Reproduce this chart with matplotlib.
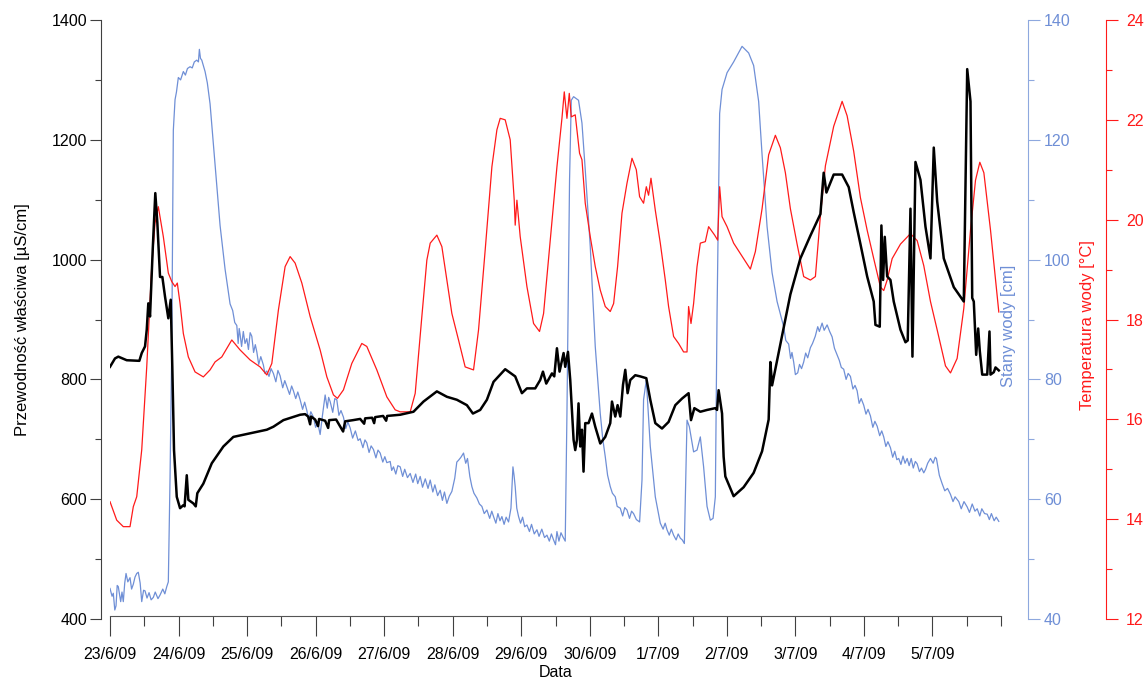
import matplotlib
matplotlib.use('Agg')
import matplotlib.pyplot as plt
from matplotlib.ticker import MultipleLocator

plt.rcParams['font.family'] = ['Liberation Sans', 'DejaVu Sans']

# czas w dniach od 23/6/09 00:00
tick_labels = ['23/6/09', '24/6/09', '25/6/09', '26/6/09', '27/6/09', '28/6/09', '29/6/09',
               '30/6/09', '1/7/09', '2/7/09', '3/7/09', '4/7/09', '5/7/09']

# przewodnosc wlasciwa [uS/cm]
t_ec = [0.000, 0.073, 0.121, 0.244, 0.428, 0.463, 0.511, 0.536, 0.559, 0.584, 0.623, 0.661, 0.691,
        0.730, 0.764, 0.803, 0.851, 0.886, 0.909, 0.934, 0.974, 1.022, 1.070, 1.088, 1.120, 1.143,
        1.216, 1.251, 1.274, 1.362, 1.485, 1.654, 1.800, 2.044, 2.288, 2.384, 2.530, 2.774, 2.847,
        2.891, 2.920, 2.934, 2.993, 3.036, 3.051, 3.139, 3.183, 3.197, 3.299, 3.401, 3.431, 3.547,
        3.650, 3.708, 3.723, 3.825, 3.854, 3.869, 3.985, 4.029, 4.044, 4.234, 4.428, 4.574, 4.769,
        4.915, 5.061, 5.207, 5.295, 5.401, 5.499, 5.596, 5.766, 5.912, 6.010, 6.083, 6.204, 6.277,
        6.317, 6.365, 6.448, 6.482, 6.521, 6.559, 6.618, 6.642, 6.682, 6.715, 6.764, 6.788, 6.813,
        6.836, 6.861, 6.886, 6.909, 6.934, 6.982, 7.032, 7.080, 7.153, 7.226, 7.299, 7.324, 7.372,
        7.406, 7.445, 7.485, 7.518, 7.552, 7.591, 7.664, 7.737, 7.825, 7.883, 7.956, 8.054, 8.150,
        8.248, 8.346, 8.442, 8.477, 8.526, 8.613, 8.711, 8.832, 8.857, 8.880, 8.930, 8.953, 8.978,
        9.099, 9.245, 9.391, 9.514, 9.610, 9.635, 9.660, 9.781, 9.927, 10.073, 10.219, 10.365,
        10.413, 10.453, 10.559, 10.682, 10.778, 10.851, 10.949, 11.047, 11.143, 11.168, 11.231,
        11.255, 11.280, 11.304, 11.339, 11.387, 11.435, 11.533, 11.606, 11.639, 11.679, 11.708,
        11.752, 11.825, 11.898, 11.971, 12.019, 12.069, 12.165, 12.311, 12.457, 12.507, 12.555,
        12.580, 12.603, 12.638, 12.667, 12.691, 12.726, 12.799, 12.832, 12.847, 12.895, 12.920,
        12.968]
ec = [821, 835, 838, 832, 831, 844, 855, 883, 927, 905, 1016, 1111, 1061,
      971, 971, 938, 902, 933, 821, 682, 604, 585, 590, 588, 640, 599,
      593, 588, 610, 626, 660, 688, 704, 710, 716, 721, 732, 741, 742,
      738, 725, 738, 733, 722, 734, 731, 719, 732, 733, 713, 730, 732,
      734, 726, 735, 736, 727, 737, 739, 731, 739, 741, 746, 763, 780,
      771, 766, 757, 743, 749, 766, 796, 817, 805, 777, 785, 785, 799,
      813, 793, 810, 805, 852, 813, 844, 821, 846, 799, 699, 682, 699,
      760, 688, 716, 646, 727, 727, 743, 721, 693, 704, 727, 763, 738,
      757, 738, 791, 816, 777, 799, 807, 805, 802, 766, 727, 718, 729,
      757, 768, 777, 732, 752, 746, 749, 752, 749, 782, 743, 671, 638,
      605, 620, 644, 680, 733, 829, 790, 859, 942, 1002, 1040, 1076,
      1145, 1112, 1142, 1142, 1121, 1079, 1026, 972, 930, 891, 888,
      1057, 966, 1038, 972, 966, 930, 883, 862, 865, 1085, 838,
      1163, 1133, 1055, 1002, 1187, 1097, 1002, 954, 930, 1318, 1264,
      936, 930, 841, 885, 847, 808, 808, 880, 808, 812, 820,
      815]

# stany wody [cm]
t_h = [0.000, 0.030, 0.048, 0.070, 0.088, 0.105, 0.121, 0.140, 0.156, 0.175, 0.194, 0.215, 0.234,
       0.260, 0.292, 0.315, 0.340, 0.365, 0.390, 0.413, 0.440, 0.463, 0.490, 0.511, 0.540, 0.570,
       0.600, 0.632, 0.660, 0.700, 0.730, 0.770, 0.800, 0.828, 0.851, 0.876, 0.901, 0.924, 0.949,
       0.970, 0.997, 1.030, 1.070, 1.100, 1.130, 1.168, 1.200, 1.230, 1.266, 1.290, 1.304, 1.320,
       1.339, 1.387, 1.420, 1.460, 1.533, 1.606, 1.679, 1.752, 1.790, 1.820, 1.850, 1.870, 1.885,
       1.898, 1.920, 1.945, 1.970, 1.996, 2.020, 2.045, 2.069, 2.095, 2.120, 2.142, 2.170, 2.200,
       2.238, 2.260, 2.288, 2.320, 2.350, 2.384, 2.420, 2.450, 2.482, 2.520, 2.550, 2.580, 2.620,
       2.650, 2.676, 2.710, 2.740, 2.774, 2.810, 2.840, 2.872, 2.900, 2.930, 2.968, 3.000, 3.030,
       3.066, 3.100, 3.139, 3.170, 3.190, 3.212, 3.250, 3.280, 3.309, 3.340, 3.370, 3.406, 3.440,
       3.470, 3.504, 3.540, 3.580, 3.620, 3.650, 3.690, 3.720, 3.747, 3.780, 3.810, 3.844, 3.880,
       3.910, 3.942, 3.980, 4.010, 4.039, 4.088, 4.110, 4.136, 4.170, 4.200, 4.234, 4.270, 4.300,
       4.340, 4.380, 4.420, 4.460, 4.490, 4.526, 4.560, 4.600, 4.640, 4.672, 4.710, 4.740, 4.780,
       4.818, 4.850, 4.880, 4.915, 4.950, 4.988, 5.030, 5.060, 5.085, 5.120, 5.158, 5.190, 5.216,
       5.250, 5.280, 5.310, 5.353, 5.390, 5.426, 5.460, 5.499, 5.540, 5.570, 5.596, 5.630, 5.660,
       5.690, 5.718, 5.750, 5.780, 5.815, 5.850, 5.879, 5.895, 5.912, 5.935, 5.961, 5.990, 6.020,
       6.050, 6.083, 6.120, 6.150, 6.190, 6.229, 6.260, 6.300, 6.340, 6.375, 6.410, 6.440, 6.472,
       6.500, 6.521, 6.550, 6.580, 6.609, 6.642, 6.667, 6.705, 6.730, 6.764, 6.836, 6.886, 6.934,
       7.007, 7.080, 7.153, 7.190, 7.226, 7.260, 7.299, 7.330, 7.372, 7.400, 7.445, 7.480, 7.510,
       7.543, 7.580, 7.610, 7.639, 7.680, 7.727, 7.762, 7.785, 7.825, 7.883, 7.956, 8.029, 8.070,
       8.100, 8.127, 8.160, 8.190, 8.223, 8.260, 8.290, 8.321, 8.350, 8.380, 8.419, 8.453, 8.515,
       8.565, 8.613, 8.661, 8.711, 8.759, 8.799, 8.832, 8.857, 8.895, 8.930, 9.003, 9.099, 9.222,
       9.318, 9.391, 9.464, 9.514, 9.587, 9.660, 9.733, 9.829, 9.860, 9.902, 9.930, 9.950, 9.975,
       10.000, 10.034, 10.060, 10.090, 10.121, 10.150, 10.180, 10.219, 10.250, 10.290, 10.326,
       10.350, 10.390, 10.420, 10.463, 10.500, 10.536, 10.570, 10.609, 10.640, 10.670, 10.705,
       10.740, 10.770, 10.803, 10.840, 10.870, 10.901, 10.930, 10.960, 10.997, 11.030, 11.060,
       11.095, 11.130, 11.160, 11.193, 11.230, 11.260, 11.289, 11.320, 11.350, 11.387, 11.420,
       11.450, 11.480, 11.508, 11.540, 11.570, 11.600, 11.631, 11.660, 11.690, 11.720, 11.750,
       11.777, 11.810, 11.840, 11.873, 11.900, 11.930, 11.971, 12.010, 12.040, 12.058, 12.100,
       12.141, 12.180, 12.220, 12.263, 12.300, 12.330, 12.384, 12.420, 12.460, 12.507, 12.540,
       12.580, 12.620, 12.653, 12.690, 12.720, 12.760, 12.799, 12.830, 12.860, 12.900, 12.930,
       12.968]
h = [45.1, 43.8, 44.3, 41.5, 42.2, 45.6, 45.4, 44.0, 42.9, 44.5, 42.9, 46.0, 47.6,
     46.2, 46.9, 45.0, 45.8, 47.0, 47.6, 47.8, 46.0, 42.9, 44.8, 44.7, 43.5, 44.4,
     43.2, 43.6, 44.5, 43.4, 44.0, 45.0, 44.2, 45.4, 46.2, 63.6, 85.4, 121.6, 126.7,
     128.0, 130.4, 130.0, 131.4, 130.8, 131.9, 132.2, 132.0, 133.0, 133.3, 133.0, 135.1, 133.6,
     133.3, 131.4, 129.5, 126.0, 115.8, 105.7, 98.4, 92.6, 91.5, 89.5, 89.0, 86.0, 88.5,
     87.5, 85.5, 88.0, 86.0, 86.8, 85.0, 87.8, 87.2, 84.5, 85.8, 84.6, 82.5, 83.8,
     82.4, 81.0, 81.4, 80.5, 81.8, 81.0, 79.6, 81.5, 80.6, 78.6, 79.8, 78.8, 77.5,
     78.9, 78.1, 76.8, 77.9, 76.6, 75.0, 76.2, 74.8, 73.2, 74.6, 73.7, 72.0, 72.8,
     70.8, 74.0, 77.4, 75.2, 77.0, 76.3, 74.5, 76.8, 76.6, 74.0, 74.8, 73.7, 71.8,
     72.9, 71.9, 70.2, 71.4, 69.8, 70.1, 68.6, 69.9, 69.4, 67.8, 68.9, 68.3, 66.9,
     68.2, 67.7, 66.2, 67.1, 66.1, 66.3, 64.8, 65.4, 64.2, 65.6, 65.4, 63.8, 65.0,
     63.6, 64.3, 62.8, 64.2, 62.6, 63.8, 62.0, 63.4, 61.8, 63.2, 61.2, 62.4, 60.6,
     61.5, 59.8, 61.2, 59.3, 60.5, 61.3, 63.5, 66.2, 66.5, 67.0, 67.7, 66.0, 66.8,
     63.8, 62.1, 61.0, 60.2, 59.2, 58.8, 57.6, 58.2, 56.8, 58.0, 57.1, 56.0, 57.6,
     56.4, 57.1, 55.8, 57.0, 56.2, 58.5, 65.4, 64.0, 62.1, 58.5, 57.1, 56.0, 57.0,
     55.4, 55.7, 54.6, 55.8, 54.2, 54.9, 53.8, 55.0, 53.6, 54.0, 53.0, 54.2, 53.2,
     52.4, 54.6, 53.0, 54.4, 53.7, 53.0, 74.3, 113.3, 126.6, 127.2, 126.6, 122.8, 115.0,
     102.2, 85.5, 74.3, 70.0, 67.1, 64.0, 62.1, 61.0, 60.4, 58.8, 58.5, 57.2, 58.6,
     58.2, 56.8, 58.0, 57.6, 56.6, 56.2, 63.2, 76.6, 79.9, 68.8, 60.4, 56.0, 55.0,
     56.0, 54.9, 54.0, 55.0, 54.0, 53.2, 54.2, 53.5, 53.2, 52.6, 73.2, 72.1, 67.9,
     68.2, 70.4, 65.4, 58.8, 56.5, 56.8, 60.4, 91.0, 124.4, 128.4, 131.2, 133.0, 135.6,
     134.5, 132.4, 126.4, 117.5, 105.5, 97.8, 93.0, 88.8, 86.5, 85.9, 83.5, 84.5, 82.9,
     80.8, 81.1, 82.5, 81.8, 82.9, 84.4, 83.6, 85.3, 86.0, 87.2, 88.8,
     88.0, 89.4, 88.2, 89.1, 88.0, 87.1, 85.2, 84.1, 83.2, 82.0, 81.7,
     80.0, 81.0, 80.5, 78.4, 79.0, 78.1, 76.0, 76.8, 75.7, 74.2, 75.0,
     73.9, 72.0, 73.0, 72.2, 70.6, 71.4, 70.4, 68.8, 69.6, 68.6, 67.0,
     68.0, 66.6, 66.8, 65.8, 67.2, 66.0, 66.8, 65.6, 66.8, 65.2, 66.3,
     65.9, 64.6, 65.2, 64.4, 65.0, 66.0, 66.8, 66.0, 67.0, 66.8, 64.0,
     62.6, 61.4, 61.8, 60.8, 59.6, 60.4, 59.6, 58.4, 59.6, 58.7, 57.8,
     59.2, 58.0, 58.4, 57.2, 58.4, 57.6, 57.5, 56.6, 57.6, 56.4, 57.0,
     56.3]

# temperatura wody [C]
t_temp = [0.000, 0.098, 0.194, 0.292, 0.340, 0.390, 0.463, 0.536, 0.609, 0.657, 0.705, 0.778, 0.851,
          0.901, 0.949, 0.982, 1.022, 1.070, 1.143, 1.241, 1.362, 1.460, 1.533, 1.631, 1.777, 1.898,
          2.044, 2.190, 2.288, 2.361, 2.457, 2.555, 2.628, 2.701, 2.799, 2.920, 3.066, 3.164, 3.260,
          3.318, 3.406, 3.528, 3.674, 3.747, 3.893, 4.039, 4.161, 4.234, 4.380, 4.453, 4.550, 4.623,
          4.672, 4.769, 4.842, 4.915, 4.988, 5.085, 5.182, 5.304, 5.377, 5.474, 5.572, 5.645, 5.693,
          5.766, 5.839, 5.898, 5.912, 5.937, 5.985, 6.083, 6.180, 6.267, 6.326, 6.423, 6.521, 6.594,
          6.628, 6.667, 6.701, 6.730, 6.788, 6.851, 6.886, 6.934, 7.007, 7.080, 7.153, 7.226, 7.299,
          7.348, 7.406, 7.470, 7.543, 7.616, 7.679, 7.727, 7.785, 7.825, 7.858, 7.893, 7.956, 8.029,
          8.102, 8.150, 8.223, 8.296, 8.369, 8.419, 8.442, 8.477, 8.515, 8.565, 8.613, 8.686, 8.734,
          8.822, 8.866, 8.895, 8.930, 9.003, 9.099, 9.245, 9.343, 9.416, 9.514, 9.610, 9.708, 9.781,
          9.854, 9.927, 10.025, 10.121, 10.219, 10.292, 10.365, 10.438, 10.559, 10.682, 10.755,
          10.851, 10.949, 11.047, 11.143, 11.241, 11.289, 11.339, 11.412, 11.533, 11.679, 11.777,
          11.873, 11.971, 12.069, 12.190, 12.263, 12.360, 12.457, 12.555, 12.628, 12.691, 12.750,
          12.847, 12.968]
temp = [14.35, 13.98, 13.85, 13.85, 14.25, 14.45, 15.39, 17.05, 19.06, 19.93, 20.26, 19.66, 18.93,
        18.76, 18.66, 18.73, 18.32, 17.72, 17.25, 16.95, 16.85, 16.99, 17.15, 17.25, 17.59, 17.39,
        17.19, 17.05, 16.89, 17.12, 18.19, 19.06, 19.26, 19.13, 18.73, 18.06, 17.39, 16.85, 16.49,
        16.42, 16.59, 17.12, 17.52, 17.46, 16.99, 16.45, 16.19, 16.15, 16.15, 16.52, 18.06, 19.19,
        19.53, 19.69, 19.46, 18.79, 18.12, 17.59, 17.05, 16.99, 17.79, 19.39, 21.06, 21.80, 22.03,
        22.00, 21.60, 20.39, 19.89, 20.39, 19.66, 18.66, 17.92, 17.76, 18.12, 19.59, 21.06, 22.03,
        22.56, 22.03, 22.53, 22.06, 22.10, 21.33, 21.20, 20.33, 19.66, 19.06, 18.59, 18.26, 18.16,
        18.32, 19.06, 20.13, 20.73, 21.23, 21.00, 20.46, 20.33, 20.66, 20.49, 20.83, 20.19, 19.53,
        18.79, 18.26, 17.66, 17.52, 17.35, 17.35, 18.26, 17.92, 18.32, 19.06, 19.53, 19.56, 19.86,
        19.69, 19.59, 20.66, 20.06, 19.86, 19.53, 19.22, 19.01, 19.36, 20.22, 21.30, 21.69, 21.44,
        20.94, 20.22, 19.51, 18.86, 18.79, 18.86, 20.08, 21.08, 21.87, 22.37, 22.08,
        21.37, 20.44, 19.79, 19.22, 18.65, 18.58, 18.79, 19.22, 19.51, 19.72, 19.58,
        19.08, 18.36, 17.79, 17.07, 16.93, 17.22, 18.22, 19.79, 20.79, 21.15, 20.94,
        19.79, 18.15]

blue = '#6f8fd6'
blue_ax = '#8ea8de'
red = '#ff1a1a'
axis_gray = '#404040'
px = 72 / 100  # punkty na piksel

fig = plt.figure(figsize=(11.48, 6.81), dpi=100)
ax = fig.add_axes([110 / 1148, 1 - 619 / 681, 891 / 1148, 599 / 681])
ax2 = ax.twinx()
ax3 = ax.twinx()

ax3.plot(t_temp, temp, color=red, lw=0.9)
ax2.plot(t_h, h, color=blue, lw=0.9)
ax.plot(t_ec, ec, color='black', lw=1.8)
ax.set_zorder(3)
ax.patch.set_visible(False)

ax.set_xlim(0, 13)
ax.set_ylim(400, 1400)
ax2.set_ylim(40, 140)
ax3.set_ylim(12, 24)

# os lewa i dolna
for s in ['top', 'right']:
    ax.spines[s].set_visible(False)
ax.spines['left'].set_position(('outward', 9 * px))
ax.spines['left'].set_color(axis_gray)
ax.spines['bottom'].set_position(('outward', -3 * px))
ax.spines['bottom'].set_color('#555555')
ax.set_xticks(range(len(tick_labels)))
ax.set_xticklabels(tick_labels)
ax.xaxis.set_minor_locator(MultipleLocator(0.5))
ax.yaxis.set_major_locator(MultipleLocator(200))
ax.yaxis.set_minor_locator(MultipleLocator(100))
ax.tick_params(axis='x', which='major', length=20 * px, width=0.8, color=axis_gray,
               labelsize=11.5, pad=11 * px)
ax.tick_params(axis='x', which='minor', length=10 * px, width=0.8, color=axis_gray)
ax.tick_params(axis='y', which='major', length=11 * px, width=0.8, color=axis_gray,
               labelsize=11.5, pad=3 * px)
ax.tick_params(axis='y', which='minor', length=6 * px, width=0.8, color=axis_gray)
ax.set_xlabel('Data', fontsize=11.5, labelpad=2)
ax.set_ylabel('Przewodność właściwa [µS/cm]', fontsize=12)
ax.yaxis.set_label_coords(-0.090, 0.5)

# stany wody
for s in ['top', 'left', 'bottom']:
    ax2.spines[s].set_visible(False)
ax2.spines['right'].set_position(('outward', 27 * px))
ax2.spines['right'].set_color(blue_ax)
ax2.yaxis.set_major_locator(MultipleLocator(20))
ax2.yaxis.set_minor_locator(MultipleLocator(10))
ax2.tick_params(axis='y', which='major', length=12 * px, width=0.8, color=blue_ax,
                labelcolor=blue, labelsize=11.5, pad=4 * px)
ax2.tick_params(axis='y', which='minor', length=6 * px, width=0.8, color=blue_ax)
ax2.set_ylabel('Stany wody [cm]', color=blue, fontsize=12)
ax2.yaxis.set_label_coords(1.000, 0.49)

# temperatura
for s in ['top', 'left', 'bottom']:
    ax3.spines[s].set_visible(False)
ax3.spines['right'].set_position(('outward', 105 * px))
ax3.spines['right'].set_color(red)
ax3.yaxis.set_major_locator(MultipleLocator(2))
ax3.yaxis.set_minor_locator(MultipleLocator(1))
ax3.tick_params(axis='y', which='major', length=12 * px, width=0.8, color=red,
                labelcolor=red, labelsize=11.5, pad=8 * px)
ax3.tick_params(axis='y', which='minor', length=6 * px, width=0.8, color=red)
ax3.set_ylabel('Temperatura wody [°C]', color=red, fontsize=12)
ax3.yaxis.set_label_coords(1.089, 0.49)

fig.savefig('out.png', dpi=100)
